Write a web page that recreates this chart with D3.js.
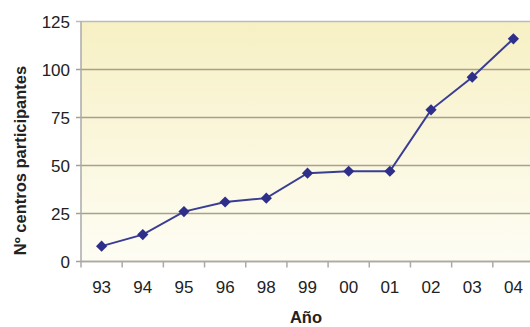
<!DOCTYPE html>
<html>
<head>
<meta charset="utf-8">
<script src="https://cdn.jsdelivr.net/npm/d3@7"></script>
<style>
  body { margin: 0; background: #fff; }
  text { font-family: "Liberation Sans", Arial, sans-serif; fill: #222; }
</style>
</head>
<body>
<div id="chart"></div>
<script>
// datos
const years = ["93", "94", "95", "96", "98", "99", "00", "01", "02", "03", "04"];
const centros = [8, 14, 26, 31, 33, 46, 47, 47, 79, 96, 116];
const yTicks = [0, 25, 50, 75, 100, 125];

const width = 530, height = 327;
const margin = { top: 21.5, right: -4, bottom: 65.5, left: 81 };

const svg = d3.select("#chart")
  .append("svg")
  .attr("width", width)
  .attr("height", height);

const x = d3.scaleBand()
  .domain(years)
  .range([margin.left, width - margin.right]);

const y = d3.scaleLinear()
  .domain([0, 125])
  .range([height - margin.bottom, margin.top]);

// fondo degradado
const grad = svg.append("defs").append("linearGradient")
  .attr("id", "bg")
  .attr("x1", 0).attr("y1", 0).attr("x2", 0).attr("y2", 1);
grad.append("stop").attr("offset", "0%").attr("stop-color", "#f7f0c4");
grad.append("stop").attr("offset", "100%").attr("stop-color", "#fefdf4");

svg.append("rect")
  .attr("x", margin.left)
  .attr("y", y(125))
  .attr("width", x.range()[1] - margin.left)
  .attr("height", y(0) - y(125))
  .attr("fill", "url(#bg)");

// lineas de cuadricula
svg.append("g")
  .selectAll("line")
  .data(yTicks)
  .join("line")
  .attr("x1", margin.left - 5)
  .attr("x2", x.range()[1])
  .attr("y1", (d) => y(d))
  .attr("y2", (d) => y(d))
  .attr("stroke", (d) => d === 125 ? "#bbb" : "#a9a08a")
  .attr("stroke-width", 1.3);

// eje Y
svg.append("line")
  .attr("x1", margin.left).attr("x2", margin.left)
  .attr("y1", y(125)).attr("y2", y(0))
  .attr("stroke", "#aaa").attr("stroke-width", 1.5);

svg.append("g")
  .selectAll("text")
  .data(yTicks)
  .join("text")
  .attr("x", margin.left - 11)
  .attr("y", (d) => y(d))
  .attr("dy", "0.36em")
  .attr("text-anchor", "end")
  .style("font-size", "17px")
  .text((d) => d);

// eje X
svg.append("line")
  .attr("x1", margin.left).attr("x2", x.range()[1])
  .attr("y1", y(0)).attr("y2", y(0))
  .attr("stroke", "#aaa").attr("stroke-width", 1.5);

svg.append("g")
  .selectAll("line")
  .data(years)
  .join("line")
  .attr("x1", (d) => x(d))
  .attr("x2", (d) => x(d))
  .attr("y1", y(0))
  .attr("y2", y(0) + 6)
  .attr("stroke", "#aaa")
  .attr("stroke-width", 1.5);

svg.append("g")
  .selectAll("text")
  .data(years)
  .join("text")
  .attr("x", (d) => x(d) + x.bandwidth() / 2)
  .attr("y", y(0) + 31)
  .attr("text-anchor", "middle")
  .style("font-size", "17px")
  .text((d) => d);

// titulos
svg.append("text")
  .attr("transform", `translate(26, ${(y(0) + y(125)) / 2 + 19}) rotate(-90)`)
  .attr("text-anchor", "middle")
  .style("font-size", "16.5px")
  .style("font-weight", "bold")
  .text("Nº centros participantes");

svg.append("text")
  .attr("x", 306)
  .attr("y", 323)
  .attr("text-anchor", "middle")
  .style("font-size", "16.5px")
  .style("font-weight", "bold")
  .text("Año");

// serie
const pts = years.map((d, i) => [x(d) + x.bandwidth() / 2, y(centros[i])]);

svg.append("path")
  .attr("d", d3.line()(pts))
  .attr("fill", "none")
  .attr("stroke", "#3a3d94")
  .attr("stroke-width", 2);

svg.append("g")
  .selectAll("path")
  .data(pts)
  .join("path")
  .attr("transform", (d) => `translate(${d[0]},${d[1]})`)
  .attr("d", d3.symbol(d3.symbolDiamond2, 80)())
  .attr("fill", "#2e2f8a");
</script>
</body>
</html>
